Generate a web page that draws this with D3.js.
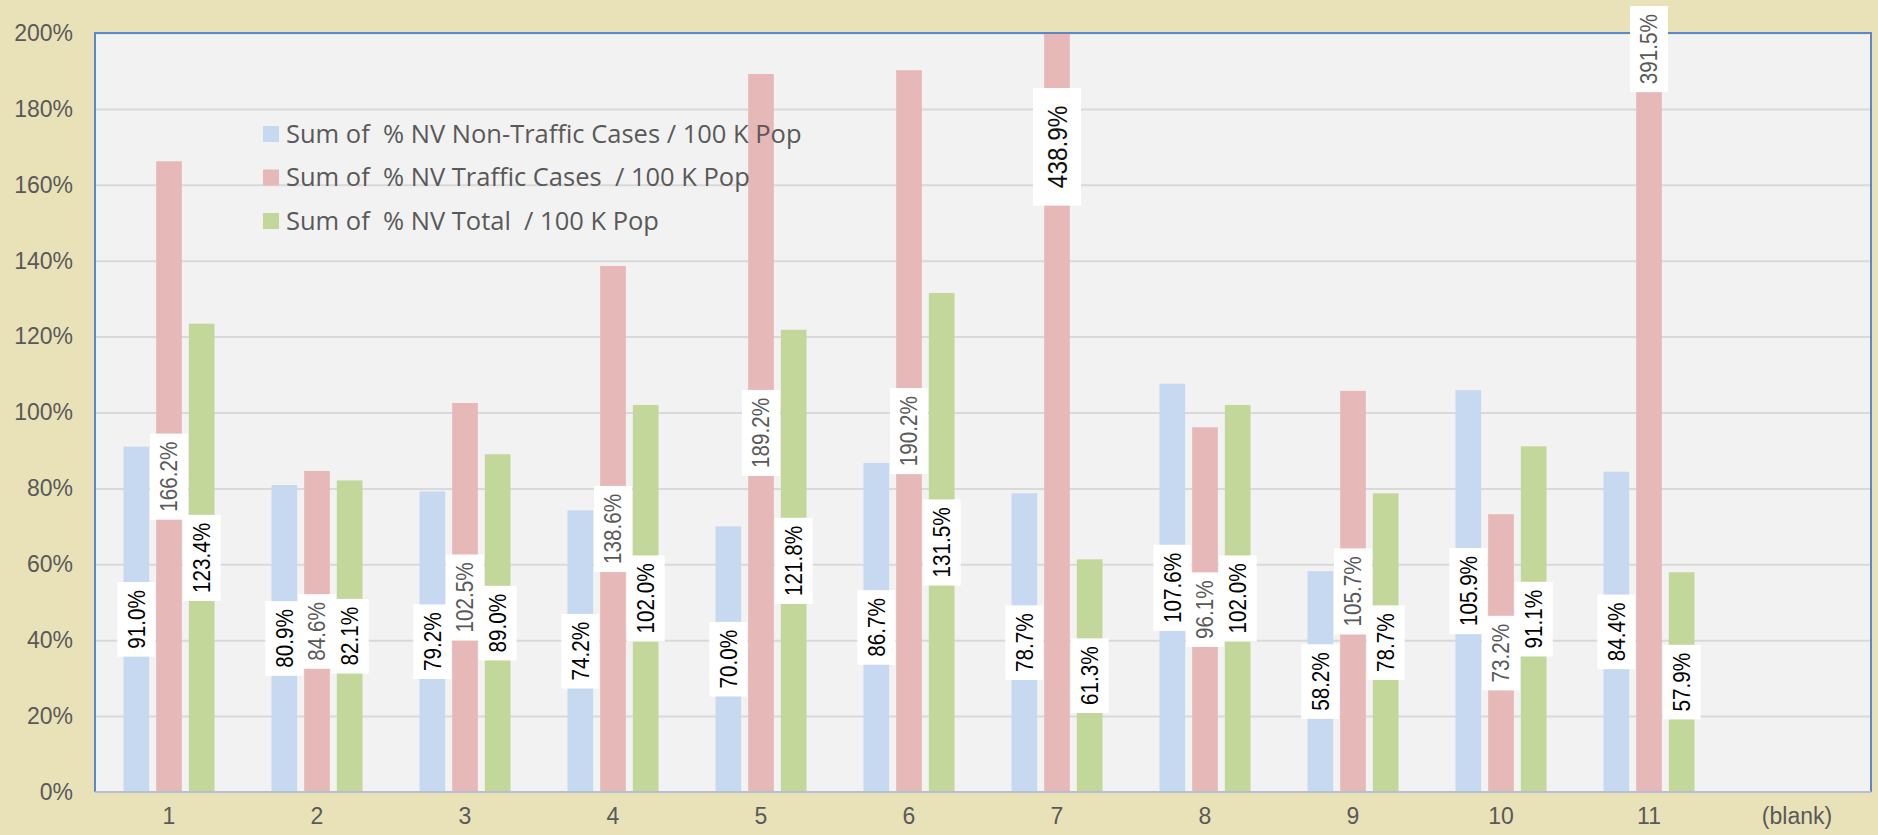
<!DOCTYPE html>
<html>
<head>
<meta charset="utf-8">
<script src="https://cdn.jsdelivr.net/npm/d3@7"></script>
<style>
  html, body { margin: 0; padding: 0; background: #e9e2b8; }
  svg { display: block; }
  text { white-space: pre; }
</style>
</head>
<body>
<svg id="chart" width="1878" height="835"></svg>
<script>
// Categories along the x axis
const categories = ["1", "2", "3", "4", "5", "6", "7", "8", "9", "10", "11", "(blank)"];

// Series names, as shown in the legend
const seriesNames = [
  "Sum of  % NV Non-Traffic Cases / 100 K Pop",
  "Sum of  % NV Traffic Cases  / 100 K Pop",
  "Sum of  % NV Total  / 100 K Pop"
];

// Values in percent (null = no value for the blank category)
const nonTraffic = [91.0, 80.9, 79.2, 74.2, 70.0, 86.7, 78.7, 107.6, 58.2, 105.9, 84.4, null];
const traffic    = [166.2, 84.6, 102.5, 138.6, 189.2, 190.2, 438.9, 96.1, 105.7, 73.2, 391.5, null];
const total      = [123.4, 82.1, 89.0, 102.0, 121.8, 131.5, 61.3, 102.0, 78.7, 91.1, 57.9, null];

// Y axis ticks, in percent
const yTicks = [0, 20, 40, 60, 80, 100, 120, 140, 160, 180, 200];

const seriesValues = [nonTraffic, traffic, total];
const seriesColors = ["#c6d9f0", "#e6b8b7", "#c4d79b"];
const labelColors  = ["#000000", "#595959", "#000000"];

const W = 1878, H = 835;
const plot = { left: 95, top: 33, right: 1871, bottom: 792 };

const svg = d3.select("#chart");

// Scales
const x = d3.scaleBand().domain(categories).range([plot.left, plot.right]).padding(0);
const inner = d3.scaleBand().domain(d3.range(3)).range([-49, 49]).paddingInner(0.214).paddingOuter(0.107);
const y = d3.scaleLinear().domain([0, 200]).range([plot.bottom, plot.top]);

// Plot area background
svg.append("rect")
  .attr("x", plot.left).attr("y", plot.top)
  .attr("width", plot.right - plot.left).attr("height", plot.bottom - plot.top)
  .attr("fill", "#f2f2f2");

// Horizontal gridlines
svg.append("g")
  .attr("transform", `translate(${plot.left},0)`)
  .call(d3.axisLeft(y).tickValues(yTicks.slice(1)).tickSize(-(plot.right - plot.left)).tickFormat(""))
  .call(g => g.select(".domain").remove())
  .call(g => g.selectAll("line").attr("stroke", "#d9d9d9").attr("stroke-width", 2));

// Y axis tick labels
svg.append("g")
  .attr("transform", `translate(${plot.left},0)`)
  .call(d3.axisLeft(y).tickValues(yTicks).tickSize(0).tickPadding(22).tickFormat(d => d + "%"))
  .call(g => g.select(".domain").remove())
  .call(g => g.selectAll("text")
    .attr("fill", "#595959")
    .style("font-family", "'Liberation Sans', Arial, sans-serif")
    .style("font-size", "23px"));

// Clip bars to the plot area
svg.append("clipPath").attr("id", "plotClip")
  .append("rect")
  .attr("x", plot.left).attr("y", plot.top)
  .attr("width", plot.right - plot.left).attr("height", plot.bottom - plot.top);

// Flatten to one record per bar
const bars = [];
seriesValues.forEach((vals, s) => {
  vals.forEach((v, i) => {
    if (v !== null) bars.push({ s, cat: categories[i], v });
  });
});

const barG = svg.append("g").attr("clip-path", "url(#plotClip)");
barG.selectAll("rect")
  .data(bars)
  .join("rect")
  .attr("x", d => x(d.cat) + x.bandwidth() / 2 + inner(d.s))
  .attr("width", inner.bandwidth())
  .attr("y", d => y(d.v))
  .attr("height", d => y(0) - y(d.v))
  .attr("fill", d => seriesColors[d.s]);

// Plot frame: blue left/top/right edges, grey-blue category axis
svg.append("path")
  .attr("d", `M${plot.left},${plot.bottom} V${plot.top} H${plot.right} V${plot.bottom}`)
  .attr("fill", "none").attr("stroke", "#5b89c8").attr("stroke-width", 2);
svg.append("line")
  .attr("x1", plot.left).attr("x2", plot.right)
  .attr("y1", plot.bottom).attr("y2", plot.bottom)
  .attr("stroke", "#b4bfd0").attr("stroke-width", 2);

// X axis category labels
svg.append("g")
  .attr("transform", `translate(0,${plot.bottom})`)
  .call(d3.axisBottom(x).tickSize(0).tickPadding(16))
  .call(g => g.select(".domain").remove())
  .call(g => g.selectAll("text")
    .attr("fill", "#595959")
    .style("font-family", "'Liberation Sans', Arial, sans-serif")
    .style("font-size", "23px"));

// Data labels: rotated, slightly condensed text in white boxes, centred on the bar's midpoint
const maxV = d3.max(bars, d => d.v);
const labelG = svg.append("g");
bars.forEach(d => {
  const big = d.v === maxV;              // the outlier is labelled larger and darker
  const fs = big ? 28 : 23.5;
  const squeeze = big ? 0.87 : 0.88;
  const pad = big ? 17.5 : 8;
  const boxW = big ? 48 : 38;
  const cx = x(d.cat) + x.bandwidth() / 2 + inner(d.s) + inner.bandwidth() / 2;
  let cy = y(d.v / 2);
  if (cy < 0) cy = y(0.85 * y.domain()[1]);  // keep an off-canvas label inside the chart

  const g = labelG.append("g").attr("transform", `translate(${cx},${cy}) rotate(-90)`);
  const rect = g.append("rect").attr("fill", "#ffffff");
  const t = g.append("text")
    .attr("text-anchor", "middle")
    .attr("dy", "0.35em")
    .attr("transform", `scale(${squeeze},1)`)
    .attr("fill", big ? "#111111" : labelColors[d.s])
    .style("font-family", "'Liberation Sans', Arial, sans-serif")
    .style("font-size", fs + "px")
    .text(d.v.toFixed(1) + "%");
  const len = t.node().getComputedTextLength() * squeeze;
  rect.attr("x", -len / 2 - pad).attr("width", len + 2 * pad)
      .attr("y", -boxW / 2).attr("height", boxW);
});

// Legend
const legend = svg.append("g").attr("transform", "translate(263,134)");
seriesNames.forEach((name, i) => {
  const row = legend.append("g").attr("transform", `translate(0,${i * 43.5})`);
  row.append("rect").attr("x", 0).attr("y", -8).attr("width", 16).attr("height", 16)
    .attr("fill", seriesColors[i]);
  row.append("text").attr("x", 23).attr("dy", "0.35em")
    .attr("fill", "#595959")
    .style("font-family", "'Open Sans', sans-serif")
    .style("font-size", "25.5px")
    .text(name);
});
</script>
</body>
</html>
